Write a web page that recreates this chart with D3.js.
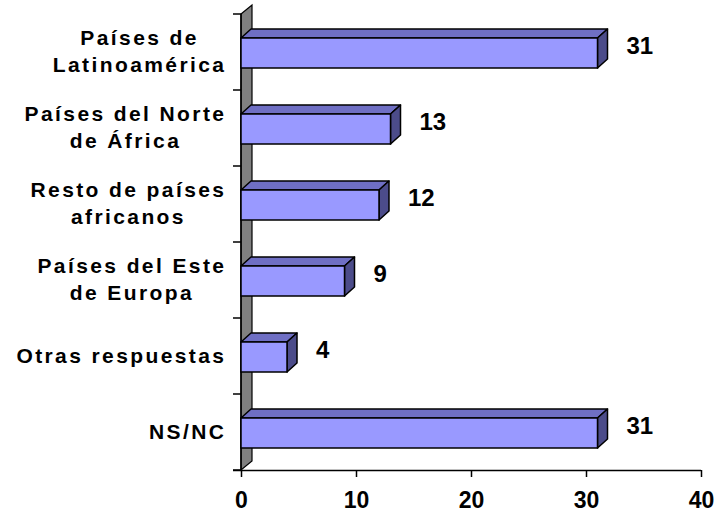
<!DOCTYPE html>
<html>
<head>
<meta charset="utf-8">
<script src="https://cdn.jsdelivr.net/npm/d3@7"></script>
<style>
  html, body { margin: 0; padding: 0; background: #ffffff; }
  svg { display: block; }
  text { font-family: "Liberation Sans", Arial, sans-serif; font-weight: bold; fill: #000; }
</style>
</head>
<body>
<svg id="chart" width="717" height="513"></svg>
<script>
// ---- data ----
const categories = [
  ["Países de", "Latinoamérica"],
  ["Países del Norte", "de África"],
  ["Resto de países", "africanos"],
  ["Países del Este", "de Europa"],
  ["Otras respuestas"],
  ["NS/NC"]
];
const values = [31, 13, 12, 9, 4, 31];
const xTicks = [0, 10, 20, 30, 40];

(function () {
// ---- layout ----
const svg = d3.select("#chart");
const pLeft = 241, pRight = 701, pTop = 14, pBottom = 470;
const depthX = 11, depthY = -9;     // wall depth
const barDX = 10, barDY = -9;       // bar depth

const keys = categories.map(c => c.join(" "));
const x = d3.scaleLinear().domain([0, 40]).range([pLeft, pRight]);
const y = d3.scaleBand().domain(keys).range([pTop, pBottom]).padding(0);
const bw = y.bandwidth();

// ---- side wall ----
svg.append("path")
  .attr("d", `M${pLeft},${pTop} L${pLeft + depthX},${pTop + depthY} L${pLeft + depthX},${pBottom + depthY} L${pLeft},${pBottom} Z`)
  .attr("fill", "#808080").attr("stroke", "#000").attr("stroke-width", 1.2);

// y axis line and ticks
svg.append("line").attr("x1", pLeft).attr("x2", pLeft).attr("y1", pTop).attr("y2", pBottom)
  .attr("stroke", "#000").attr("stroke-width", 1.5);
const yTickPos = keys.map(k => y(k)).concat([pBottom]);
svg.selectAll("line.ytick").data(yTickPos).enter().append("line")
  .attr("class", "ytick")
  .attr("x1", pLeft - 8).attr("x2", pLeft).attr("y1", d => d).attr("y2", d => d)
  .attr("stroke", "#000").attr("stroke-width", 1.5);

// x axis
const xAxis = svg.append("g").attr("transform", `translate(0,${pBottom})`)
  .call(d3.axisBottom(x).tickValues(xTicks).tickSize(7).tickPadding(18).tickFormat(d3.format("d")));
xAxis.select(".domain").attr("stroke", "#000").attr("stroke-width", 1.5)
  .attr("d", `M${pLeft - 8},0.5H${pRight}`);
xAxis.selectAll(".tick line").attr("stroke", "#000").attr("stroke-width", 1.5);
xAxis.selectAll(".tick text")
  .attr("font-family", "Liberation Sans, Arial, sans-serif")
  .attr("font-weight", "bold").attr("font-size", 23).attr("fill", "#000")
  .attr("dy", null).attr("y", 38);

// ---- bars ----
const bars = svg.selectAll("g.bar").data(keys.map((k, i) => ({ k, v: values[i] })))
  .enter().append("g").attr("class", "bar");

bars.each(function (d) {
  const g = d3.select(this);
  const x0 = x(0), x1 = x(d.v);
  const y0 = y(d.k) + bw / 2 - 14, y1 = y0 + 30;
  // top face
  g.append("path")
    .attr("d", `M${x0},${y0} L${x0 + barDX},${y0 + barDY} L${x1 + barDX},${y0 + barDY} L${x1},${y0} Z`)
    .attr("fill", "#6F6FC4").attr("stroke", "#000").attr("stroke-width", 1.5).attr("stroke-linejoin", "round");
  // right face
  g.append("path")
    .attr("d", `M${x1},${y0} L${x1 + barDX},${y0 + barDY} L${x1 + barDX},${y1 + barDY} L${x1},${y1} Z`)
    .attr("fill", "#4C4C8A").attr("stroke", "#000").attr("stroke-width", 1.5).attr("stroke-linejoin", "round");
  // front face
  g.append("rect")
    .attr("x", x0).attr("y", y0).attr("width", x1 - x0).attr("height", y1 - y0)
    .attr("fill", "#9999FF").attr("stroke", "#000").attr("stroke-width", 1.5);
  // value label
  g.append("text")
    .attr("x", x1 + barDX + 19)
    .attr("y", y(d.k) + bw / 2 + 2)
    .attr("font-size", 24)
    .text(d.v);
});

// ---- category labels ----
const labelRight = 224, lineH = 27.5, ls = 2.4;
categories.forEach((lines, i) => {
  const cy = y(keys[i]) + bw / 2;
  const n = lines.length;
  const texts = lines.map((ln, j) => svg.append("text")
    .attr("font-size", 21)
    .style("letter-spacing", ls + "px")
    .attr("y", cy + 6.5 - (n - 1) * lineH / 2 + j * lineH)
    .text(ln));
  const widths = texts.map(t => t.node().getComputedTextLength() - ls);
  const maxW = d3.max(widths);
  const cx = labelRight - maxW / 2;
  texts.forEach((t, j) => t.attr("x", cx - widths[j] / 2));
});
})();
</script>
</body>
</html>
